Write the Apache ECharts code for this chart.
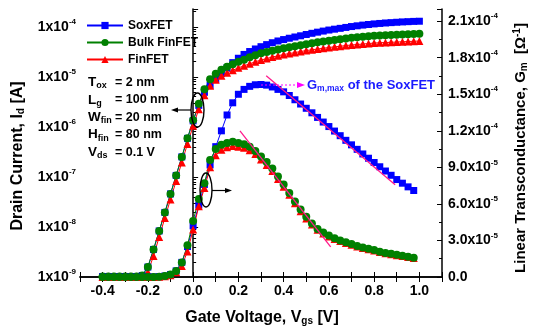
<!DOCTYPE html>
<html><head><meta charset="utf-8">
<script src="https://cdn.jsdelivr.net/npm/echarts@6/dist/echarts.min.js"></script>
<style>html,body{margin:0;padding:0;background:#fff}#c{width:537px;height:331px}</style>
</head><body><div id="c"></div>
<script>
// ---- data ----
const vgs = [-0.4,-0.375,-0.35,-0.325,-0.3,-0.275,-0.25,-0.225,-0.2,-0.175,-0.15,-0.125,-0.1,-0.075,-0.05,-0.025,
 0,0.025,0.05,0.075,0.1,0.125,0.15,0.175,0.2,0.225,0.25,0.275,0.3,0.325,0.35,0.375,0.4,0.425,0.45,0.475,
 0.5,0.525,0.55,0.575,0.6,0.625,0.65,0.675,0.7,0.725,0.75,0.775,0.8,0.825,0.85,0.875,0.9,0.925,0.95,0.975,1.0];

// drain current [A]
const idSox = [1.02e-9,1.02e-9,1.02e-9,1.02e-9,1.02e-9,1.02e-9,1.02e-9,1.07e-9,1.58e-9,3.55e-9,8.32e-9,1.95e-8,4.57e-8,1.07e-7,2.51e-7,5.89e-7,
 1.32e-6,2.69e-6,4.90e-6,6.76e-6,8.91e-6,1.17e-5,1.51e-5,1.92e-5,2.35e-5,2.80e-5,3.20e-5,3.60e-5,4.00e-5,4.40e-5,4.80e-5,5.20e-5,5.55e-5,5.90e-5,6.25e-5,6.60e-5,
 7.00e-5,7.40e-5,7.80e-5,8.20e-5,8.60e-5,8.95e-5,9.30e-5,9.70e-5,1.01e-4,1.045e-4,1.08e-4,1.11e-4,1.14e-4,1.165e-4,1.19e-4,1.21e-4,1.23e-4,1.25e-4,1.265e-4,1.28e-4,1.29e-4];
const idBulk = [1.02e-9,1.02e-9,1.02e-9,1.02e-9,1.02e-9,1.02e-9,1.02e-9,1.07e-9,1.58e-9,3.55e-9,8.32e-9,1.95e-8,4.57e-8,1.07e-7,2.51e-7,5.89e-7,
 1.35e-6,2.88e-6,5.62e-6,8.91e-6,1.15e-5,1.38e-5,1.58e-5,1.78e-5,2.00e-5,2.19e-5,2.45e-5,2.69e-5,2.95e-5,3.13e-5,3.31e-5,3.51e-5,3.72e-5,3.89e-5,4.07e-5,4.27e-5,
 4.47e-5,4.68e-5,4.90e-5,5.07e-5,5.25e-5,5.43e-5,5.62e-5,5.82e-5,6.03e-5,6.17e-5,6.31e-5,6.46e-5,6.61e-5,6.68e-5,6.76e-5,6.84e-5,6.92e-5,7.00e-5,7.08e-5,7.16e-5,7.24e-5];
const idFin = [1.02e-9,1.02e-9,1.02e-9,1.02e-9,1.02e-9,1.02e-9,1.02e-9,1.05e-9,1.26e-9,2.63e-9,6.31e-9,1.51e-8,3.55e-8,8.32e-8,1.95e-7,4.57e-7,
 1.05e-6,2.24e-6,4.27e-6,6.61e-6,8.71e-6,1.05e-5,1.20e-5,1.35e-5,1.51e-5,1.66e-5,1.82e-5,2.00e-5,2.16e-5,2.32e-5,2.48e-5,2.63e-5,2.79e-5,2.92e-5,3.05e-5,3.20e-5,
 3.35e-5,3.47e-5,3.59e-5,3.72e-5,3.85e-5,3.98e-5,4.07e-5,4.22e-5,4.32e-5,4.42e-5,4.52e-5,4.62e-5,4.73e-5,4.79e-5,4.84e-5,4.90e-5,4.95e-5,5.01e-5,5.07e-5,5.13e-5,5.19e-5];

// linear transconductance [1/Ohm] (Vgs = -0.4 ... 0.975)
const gmSox = [0,0,0,0,0,0,0,0,0,1e-7,3e-7,8e-7,2e-6,5e-6,1.2e-5,2.5e-5,
 4.2e-5,5.9e-5,7.6e-5,9.2e-5,1.07e-4,1.20e-4,1.33e-4,1.43e-4,1.50e-4,1.54e-4,1.565e-4,1.578e-4,1.58e-4,1.575e-4,1.56e-4,1.54e-4,1.52e-4,1.49e-4,1.455e-4,1.42e-4,
 1.385e-4,1.348e-4,1.31e-4,1.272e-4,1.235e-4,1.198e-4,1.16e-4,1.122e-4,1.085e-4,1.048e-4,1.01e-4,9.75e-5,9.4e-5,9.05e-5,8.7e-5,8.35e-5,8.0e-5,7.7e-5,7.4e-5,7.1e-5];
const gmBulk = [0,0,0,0,0,0,0,0,0,1e-7,3e-7,8e-7,2e-6,5e-6,1.2e-5,2.6e-5,
 4.6e-5,6.4e-5,7.7e-5,9.6e-5,1.05e-4,1.085e-4,1.10e-4,1.11e-4,1.10e-4,1.09e-4,1.07e-4,1.035e-4,9.9e-5,9.45e-5,8.9e-5,8.25e-5,7.6e-5,6.9e-5,6.2e-5,5.55e-5,
 4.95e-5,4.4e-5,3.95e-5,3.65e-5,3.4e-5,3.18e-5,3.0e-5,2.85e-5,2.7e-5,2.55e-5,2.43e-5,2.32e-5,2.22e-5,2.08e-5,1.98e-5,1.9e-5,1.82e-5,1.74e-5,1.67e-5,1.58e-5];
const gmFin = [0,0,0,0,0,0,0,0,0,0,2e-7,6e-7,1.5e-6,3.8e-6,9e-6,2.1e-5,
 3.9e-5,5.8e-5,7.3e-5,9.0e-5,1.0e-4,1.045e-4,1.065e-4,1.075e-4,1.07e-4,1.06e-4,1.04e-4,1.01e-4,9.65e-5,9.2e-5,8.7e-5,8.05e-5,7.4e-5,6.75e-5,6.05e-5,5.4e-5,
 4.8e-5,4.3e-5,3.87e-5,3.57e-5,3.33e-5,3.12e-5,2.95e-5,2.8e-5,2.65e-5,2.51e-5,2.39e-5,2.28e-5,2.18e-5,2.05e-5,1.95e-5,1.87e-5,1.79e-5,1.72e-5,1.65e-5,1.56e-5];

// fitted tangent lines (Vgs, Gm)
const fitSox = [[0.323, 1.652e-4], [0.893, 7.58e-5]];
const fitBulk = [[0.207, 1.20e-4], [0.608, 2.48e-5]];

const seriesNames = ['SoxFET', 'Bulk FinFET', 'FinFET'];
const xTickLabels = [-0.4, -0.2, 0.0, 0.2, 0.4, 0.6, 0.8, 1.0];
const idDecades = [-9, -8, -7, -6, -5, -4];
const gmTicks = [0, 3e-5, 6e-5, 9e-5, 1.2e-4, 1.5e-4, 1.8e-4, 2.1e-4];
const paramLines = [['T', 'ox', '= 2 nm'], ['L', 'g', '= 100 nm'], ['W', 'fin', '= 20 nm'], ['H', 'fin', '= 80 nm'], ['V', 'ds', '= 0.1 V']];

// ---- chart ----
const FONT = 'Arial, "Liberation Sans", Helvetica, sans-serif';
const BLUE = '#0000ff', GREEN = '#008000', RED = '#ff0000', PINK = '#ff1a8c';
const minorLog = [];
for (let n = -9; n <= -4; n++) for (let k = 2; k <= 9; k++) { const l = n + Math.log10(k); if (l < -3.645) minorLog.push(l); }
const gmMinor = gmTicks.slice(0, -1).map(v => v + 1.5e-5);

const tickRich = {
  b: {fontSize: 14, fontWeight: 'bold', fontFamily: FONT, color: '#000', lineHeight: 18, verticalAlign: 'middle'},
  s: {fontSize: 8, fontWeight: 'bold', fontFamily: FONT, color: '#000', lineHeight: 8, verticalAlign: 'top'}
};
const mkNameRich = fs => ({
  n: {fontSize: fs, fontWeight: 'bold', fontFamily: FONT, color: '#000', lineHeight: 17, verticalAlign: 'middle'},
  d: {fontSize: 10, fontWeight: 'bold', fontFamily: FONT, color: '#000', lineHeight: 8, verticalAlign: 'bottom'},
  u: {fontSize: 10, fontWeight: 'bold', fontFamily: FONT, color: '#000', lineHeight: 8, verticalAlign: 'top'}
});
const axisLineStyle = {lineStyle: {color: '#000', width: 1.5}};

const idData = arr => vgs.map((v, i) => [v, Math.log10(arr[i])]);
const gmData = arr => arr.map((g, i) => [vgs[i], g]);

function mkSeries(name, data, yIdx, symbol, size, color) {
  return {name, type: 'line', data, xAxisIndex: 0, yAxisIndex: yIdx, symbol, symbolSize: size,
    showAllSymbol: true, lineStyle: {color, width: 1}, itemStyle: {color}, emphasis: {disabled: true}, z: 3};
}

const chart = echarts.init(document.getElementById('c'), null, {renderer: 'canvas'});
const option = {
  animation: false,
  backgroundColor: '#fff',
  grid: {left: 80, top: 9, width: 364, height: 268},
  legend: {
    data: seriesNames, orient: 'vertical', left: 86, top: 18, padding: 0,
    itemWidth: 36, itemHeight: 9, itemGap: 2,
    textStyle: {fontSize: 12, fontWeight: 'bold', fontFamily: FONT, color: '#000', lineHeight: 15}
  },
  xAxis: [
    {type: 'value', min: -0.5, max: 1.1, interval: 0.1, position: 'bottom',
     axisLine: axisLineStyle, axisTick: {inside: true, length: 5, lineStyle: {color: '#000'}},
     axisLabel: {margin: 7, fontSize: 14, fontWeight: 'bold', fontFamily: FONT, color: '#000',
       formatter: v => { const t = Math.round(v * 10); return (t % 2 === 0 && xTickLabels.indexOf(t / 10) >= 0) ? (t / 10).toFixed(1) : ''; }},
     splitLine: {show: false},
     name: '{n|Gate Voltage, V}{d|gs}{n| [V]}', nameLocation: 'middle', nameGap: 32,
     nameTextStyle: {rich: mkNameRich(16), padding: [0, 0, 0, 2]}},
    {type: 'value', min: -0.5, max: 1.1, interval: 0.1, position: 'top',
     axisLine: axisLineStyle, axisTick: {inside: true, length: 5, lineStyle: {color: '#000'}},
     axisLabel: {show: false}, splitLine: {show: false}}
  ],
  yAxis: [
    {type: 'value', min: -9, max: -3.645, interval: 1, position: 'left',
     axisLine: axisLineStyle, axisTick: {inside: true, length: 5, lineStyle: {color: '#000'}},
     axisLabel: {margin: 4, rich: tickRich,
       formatter: v => { const r = Math.round(v); return (Math.abs(v - r) < 1e-6 && idDecades.indexOf(r) >= 0) ? '{b|1x10}{s|' + r + '}' : ''; }},
     splitLine: {show: false},
     name: '{n|Drain Current, I}{d|d}{n| [A]}', nameLocation: 'middle', nameGap: 54, nameRotate: 90,
     nameTextStyle: {rich: mkNameRich(16), padding: [0, 26, 0, 0]}},
    {type: 'value', min: -9, max: -3.645, position: 'left',
     axisLine: {show: false}, axisTick: {inside: true, length: 3, customValues: minorLog, lineStyle: {color: '#000'}},
     axisLabel: {show: false}, splitLine: {show: false}},
    {type: 'value', min: 0, max: 2.2e-4, interval: 3e-5, position: 'right',
     axisLine: axisLineStyle, axisTick: {inside: true, length: 5, lineStyle: {color: '#000'}},
     axisLabel: {margin: 6, rich: tickRich,
       formatter: v => {
         const q = v / 3e-5; if (Math.abs(q - Math.round(q)) > 1e-6) return '';
         if (Math.abs(v) < 1e-12) return '{b|0.0}';
         const e = Math.floor(Math.log10(v) + 1e-9); const m = v / Math.pow(10, e);
         return '{b|' + m.toFixed(1) + 'x10}{s|' + e + '}';
       }},
     splitLine: {show: false},
     name: '{n|Linear Transconductance, G}{d|m}{n|  [Ω}{u|-1}{n|]}', nameLocation: 'middle', nameGap: 70, nameRotate: 90,
     nameTextStyle: {rich: mkNameRich(15), padding: [0, 10, 0, 0]}},
    {type: 'value', min: 0, max: 2.2e-4, position: 'right',
     axisLine: {show: false}, axisTick: {inside: true, length: 3, customValues: gmMinor, lineStyle: {color: '#000'}},
     axisLabel: {show: false}, splitLine: {show: false}}
  ],
  series: [
    mkSeries('SoxFET', idData(idSox), 0, 'rect', 7, BLUE),
    mkSeries('FinFET', idData(idFin), 0, 'triangle', 8, RED),
    mkSeries('Bulk FinFET', idData(idBulk), 0, 'circle', 8, GREEN),
    mkSeries('SoxFET', gmData(gmSox), 2, 'rect', 7, BLUE),
    mkSeries('FinFET', gmData(gmFin), 2, 'triangle', 8, RED),
    mkSeries('Bulk FinFET', gmData(gmBulk), 2, 'circle', 8, GREEN),
    {type: 'line', data: fitSox, yAxisIndex: 2, symbol: 'none', lineStyle: {color: PINK, width: 1.3}, z: 5, silent: true},
    {type: 'line', data: fitBulk, yAxisIndex: 2, symbol: 'none', lineStyle: {color: PINK, width: 1.3}, z: 5, silent: true}
  ]
};
chart.setOption(option);

// ---- annotations ----
const g = [];
const annRich = {
  t: {fontSize: 13.5, fontWeight: 'bold', fontFamily: FONT, fill: '#000', lineHeight: 16, verticalAlign: 'middle'},
  s: {fontSize: 9, fontWeight: 'bold', fontFamily: FONT, fill: '#000', lineHeight: 8, verticalAlign: 'bottom'}
};
paramLines.forEach((p, i) => {
  const y = 82.5 + i * 17.4;
  g.push({type: 'text', z: 10, style: {x: 88, y, text: '{t|' + p[0] + '}{s|' + p[1] + '}', rich: annRich, verticalAlign: 'middle', align: 'left'}});
  g.push({type: 'text', z: 10, style: {x: 115, y, text: p[2], font: 'bold 12.5px ' + FONT, fill: '#000', verticalAlign: 'middle', align: 'left'}});
});
g.push({type: 'ellipse', z: 10, shape: {cx: 197.5, cy: 110, rx: 6.5, ry: 17}, style: {fill: 'none', stroke: '#000', lineWidth: 1.4}});
g.push({type: 'line', z: 10, shape: {x1: 191, y1: 110, x2: 176, y2: 110}, style: {stroke: '#000', lineWidth: 1.2}});
g.push({type: 'polygon', z: 10, shape: {points: [[171, 110], [178, 107.5], [178, 112.5]]}, style: {fill: '#000'}});
g.push({type: 'ellipse', z: 10, shape: {cx: 206, cy: 190, rx: 6, ry: 17}, style: {fill: 'none', stroke: '#000', lineWidth: 1.4}});
g.push({type: 'line', z: 10, shape: {x1: 212, y1: 190.5, x2: 227, y2: 190.5}, style: {stroke: '#000', lineWidth: 1.2}});
g.push({type: 'polygon', z: 10, shape: {points: [[232, 190.5], [225, 188], [225, 193]]}, style: {fill: '#000'}});
g.push({type: 'line', z: 10, shape: {x1: 261, y1: 85, x2: 298, y2: 85}, style: {stroke: '#ff00ff', lineWidth: 1.2, lineDash: [2, 2]}});
g.push({type: 'polygon', z: 10, shape: {points: [[305, 85], [297, 82], [297, 88]]}, style: {fill: '#ff00ff'}});
g.push({type: 'text', z: 10, style: {x: 307, y: 85, verticalAlign: 'middle', align: 'left',
  text: '{t|G}{s|m,max}{t| of the SoxFET}',
  rich: {t: {fontSize: 13, fontWeight: 'bold', fontFamily: FONT, fill: '#1a1aff', lineHeight: 16, verticalAlign: 'middle'},
         s: {fontSize: 8.5, fontWeight: 'bold', fontFamily: FONT, fill: '#1a1aff', lineHeight: 8, verticalAlign: 'bottom'}}}});
chart.setOption({graphic: {elements: g}});
</script>
</body></html>
